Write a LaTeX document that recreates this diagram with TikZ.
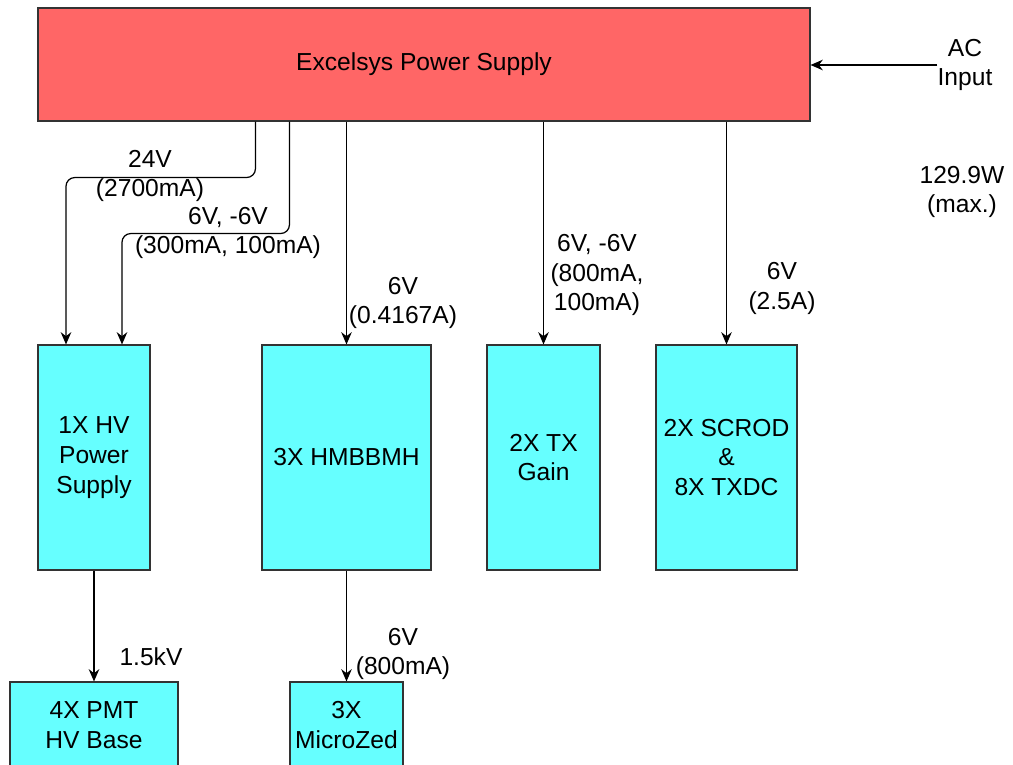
\documentclass[tikz,border=0pt]{standalone}
\usepackage{fontspec}
\setmainfont{Liberation Sans}
\usepackage{xcolor}
\usepackage{tikz}
\usetikzlibrary{arrows.meta}

\definecolor{psured}{HTML}{FF6666}
\definecolor{boxcyan}{HTML}{66FFFF}

\begin{document}
\begin{tikzpicture}[
    font=\fontsize{14}{17}\selectfont,
    block/.style={draw=black!80, line width=0.6pt, align=center, inner sep=0pt},
    wire/.style={-{Stealth[length=7pt, width=6pt]}, line width=0.7pt, rounded corners=5pt},
    lbl/.style={align=center, inner sep=0pt}
]
    \useasboundingbox (0,0) rectangle (20.26,-15.3);

    % Supply
    \node[block, fill=psured, minimum width=15.44cm, minimum height=2.26cm] (psu) at (8.48,-1.29) {Excelsys Power Supply};
    \node[lbl] (ac) at (19.3,-1.3) {AC\\Input};
    \draw[wire] (ac.west) -- (ac.west -| psu.east);
    \node[lbl] (watt) at (19.24,-3.84) {129.9W\\(max.)};

    % Loads
    \node[block, fill=boxcyan, minimum width=2.24cm, minimum height=4.5cm] (hvps) at (1.88,-9.15) {1X HV\\Power\\Supply};
    \node[block, fill=boxcyan, minimum width=3.38cm, minimum height=4.5cm] (hmb) at (6.93,-9.15) {3X HMBBMH};
    \node[block, fill=boxcyan, minimum width=2.26cm, minimum height=4.5cm] (tx) at (10.87,-9.15) {2X TX\\Gain};
    \node[block, fill=boxcyan, minimum width=2.82cm, minimum height=4.5cm] (scrod) at (14.53,-9.15) {2X SCROD\\\&\\8X TXDC};
    \node[block, fill=boxcyan, minimum width=3.36cm, minimum height=1.72cm] (pmt) at (1.88,-14.5) {4X PMT\\HV Base};
    \node[block, fill=boxcyan, minimum width=2.26cm, minimum height=1.72cm] (mzed) at (6.93,-14.5) {3X\\MicroZed};

    % Feeds
    \draw[wire] ([xshift=4.36cm]psu.south west) -- ++(0,-1.12) -| ([xshift=-0.56cm]hvps.north);
    \node[lbl] (l24) at (3.0,-3.52) {24V\\(2700mA)};
    \draw[wire] ([xshift=5.04cm]psu.south west) -- ++(0,-2.24) -| ([xshift=0.56cm]hvps.north);
    \node[lbl] (l6hv) at (4.56,-4.66) {6V, -6V\\(300mA, 100mA)};
    \draw[wire] (psu.south -| hmb.north) -- (hmb.north);
    \node[lbl] (l6hmb) at (8.06,-6.06) {6V\\(0.4167A)};
    \draw[wire] (psu.south -| tx.north) -- (tx.north);
    \node[lbl] (l6tx) at (11.94,-5.5) {6V, -6V\\(800mA,\\100mA)};
    \draw[wire] (psu.south -| scrod.north) -- (scrod.north);
    \node[lbl] (l6scrod) at (15.64,-5.77) {6V\\(2.5A)};

    % Second stage
    \draw[wire] (hvps.south) -- (pmt.north);
    \node[lbl] (lkv) at (3.02,-13.14) {1.5kV};
    \draw[wire] (hmb.south) -- (mzed.north);
    \node[lbl] (l6mz) at (8.06,-13.08) {6V\\(800mA)};
\end{tikzpicture}
\end{document}
